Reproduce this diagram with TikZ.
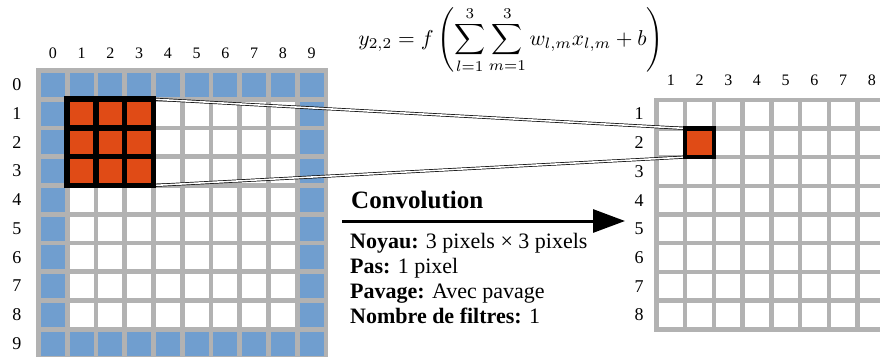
\documentclass[tikz,border=0pt]{standalone}
\usepackage{graphicx}
\usepackage{fontspec}
\setmainfont{Liberation Serif}
\usetikzlibrary{arrows.meta}
\definecolor{cellblue}{RGB}{112,158,207}
\definecolor{cellorange}{RGB}{224,75,22}
\definecolor{gridgray}{RGB}{178,178,178}
\tikzset{
  collabel/.style={font=\fontsize{16}{18}\selectfont, inner sep=0pt},
  rowlabel/.style={font=\fontsize{18}{20}\selectfont, inner sep=0pt},
  hilite/.style={draw=black, rectangle, inner sep=0pt, outer sep=0pt},
  linkline/.style={draw=black, double=white, double distance=1.6pt, line width=0.7pt},
  infotext/.style={font=\fontsize{22}{25}\selectfont, align=left, inner sep=0pt},
}
\begin{document}
\begin{tikzpicture}[x=1pt,y=-1pt]
\useasboundingbox (0,0) rectangle (880,356);
\clip (0,0) rectangle (880,356);
% ---------- left grid (input, 10x10 with padding) ----------
\def\lx{36}\def\ly{68}\def\lp{28.75}\def\lg{4.9}
\fill[gridgray] (\lx,\ly) rectangle ({\lx+10*\lp+\lg},{\ly+10*\lp+\lg});
\foreach \i in {0,...,9}{
  \foreach \j in {0,...,9}{
    \pgfmathtruncatemacro{\isborder}{(\i==0)||(\i==9)||(\j==0)||(\j==9)}
    \pgfmathtruncatemacro{\iskernel}{(\i>=1)&&(\i<=3)&&(\j>=1)&&(\j<=3)}
    \ifnum\isborder=1 \def\cc{cellblue}\else\ifnum\iskernel=1 \def\cc{cellorange}\else\def\cc{white}\fi\fi
    \fill[\cc] ({\lx+\lg+\i*\lp},{\ly+\lg+\j*\lp}) rectangle ({\lx+(\i+1)*\lp},{\ly+(\j+1)*\lp});
  }
}
\foreach \i in {0,...,9}{
  \node[collabel] (lc\i) at ({\lx+\lg/2+(\i+0.5)*\lp},53) {\i};
  \node[rowlabel] (lr\i) at (17,{\ly+\lg/2+(\i+0.5)*\lp}) {\i};
}
% ---------- right grid (output) ----------
\def\rx{654.3}\def\ry{97.5}\def\rp{28.7}\def\rg{4.4}
\fill[gridgray] (\rx,\ry) rectangle ({\rx+9*\rp+\rg},{\ry+8*\rp+\rg});
\foreach \i in {0,...,8}{
  \foreach \j in {0,...,7}{
    \pgfmathtruncatemacro{\isout}{(\i==1)&&(\j==1)}
    \ifnum\isout=1 \def\cc{cellorange}\else\def\cc{white}\fi
    \fill[\cc] ({\rx+\rg+\i*\rp},{\ry+\rg+\j*\rp}) rectangle ({\rx+(\i+1)*\rp},{\ry+(\j+1)*\rp});
  }
}
\foreach \i in {1,...,8}{
  \node[collabel] (rc\i) at ({\rx+\rg/2+(\i-0.5)*\rp},80) {\i};
  \node[rowlabel] (rr\i) at (639,{\ry+\rg/2+(\i-0.5)*\rp}) {\i};
}
% ---------- connectors ----------
\coordinate (kc) at ({\lx+\lg/2+2.5*\lp},{\ly+\lg/2+2.5*\lp});
\coordinate (oc) at ({\rx+\rg/2+1.5*\rp},{\ry+\rg/2+1.5*\rp});
\node[hilite, line width=5.5pt, minimum width=3*\lp*1pt, minimum height=3*\lp*1pt] (kernel) at (kc) {};
\node[hilite, line width=4.5pt, minimum width=\rp*1pt, minimum height=\rp*1pt] (out) at (oc) {};
\draw[linkline] (kernel.north east) -- (out.north west);
\draw[linkline] (kernel.south east) -- (out.south west);
% redraw kernel on top
\node[hilite, line width=5.5pt, minimum width=3*\lp*1pt, minimum height=3*\lp*1pt] (kernel2) at (kc) {};
\node[hilite, line width=4.5pt, minimum width=\rp*1pt, minimum height=\rp*1pt] (out2) at (oc) {};
\draw[line width=5.5pt] ({\lx+\lg/2+2*\lp},{\ly+\lg/2+\lp}) -- ({\lx+\lg/2+2*\lp},{\ly+\lg/2+4*\lp});
\draw[line width=5.5pt] ({\lx+\lg/2+3*\lp},{\ly+\lg/2+\lp}) -- ({\lx+\lg/2+3*\lp},{\ly+\lg/2+4*\lp});
\draw[line width=5.5pt] ({\lx+\lg/2+\lp},{\ly+\lg/2+2*\lp}) -- ({\lx+\lg/2+4*\lp},{\ly+\lg/2+2*\lp});
\draw[line width=5.5pt] ({\lx+\lg/2+\lp},{\ly+\lg/2+3*\lp}) -- ({\lx+\lg/2+4*\lp},{\ly+\lg/2+3*\lp});
% ---------- formula ----------
\node[inner sep=0pt] (formula) at (511,40)
  {\scalebox{2.15}{$\displaystyle y_{2,2} = f\left(\sum_{l=1}^{3}\sum_{m=1}^{3} w_{l,m}x_{l,m} + b\right)$}};
% ---------- arrow and text ----------
\coordinate (arrS) at (342,221);
\coordinate (arrE) at (625,221);
\draw[line width=3pt, -{Triangle[length=32pt,width=23pt]}] (arrS) -- (arrE);
\node[anchor=base west, inner sep=0pt, font=\fontsize{25}{28}\selectfont\bfseries] (title) at (351,208) {Convolution};
\node[infotext, anchor=north west] (info) at (350,233)
  {\textbf{Noyau:} 3 pixels × 3 pixels\\
   \textbf{Pas:} 1 pixel\\
   \textbf{Pavage:} Avec pavage\\
   \textbf{Nombre de filtres:} 1};
\end{tikzpicture}
\end{document}
